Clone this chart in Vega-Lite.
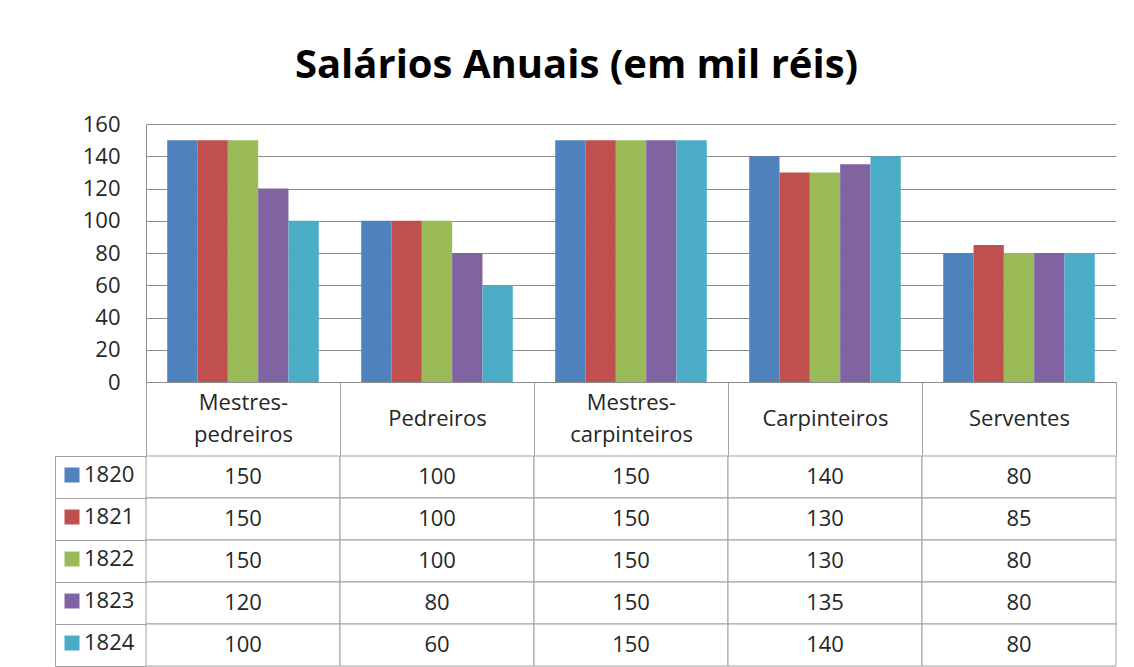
{
  "$schema": "https://vega.github.io/schema/vega-lite/v6.json",
  "background": "white",
  "padding": {"left": 54, "top": 46, "right": 10, "bottom": 0},
  "datasets": {
    "salarios": [
      {"ocupacao": "Mestres-pedreiros", "ano": "1820", "salario": 150},
      {"ocupacao": "Mestres-pedreiros", "ano": "1821", "salario": 150},
      {"ocupacao": "Mestres-pedreiros", "ano": "1822", "salario": 150},
      {"ocupacao": "Mestres-pedreiros", "ano": "1823", "salario": 120},
      {"ocupacao": "Mestres-pedreiros", "ano": "1824", "salario": 100},
      {"ocupacao": "Pedreiros", "ano": "1820", "salario": 100},
      {"ocupacao": "Pedreiros", "ano": "1821", "salario": 100},
      {"ocupacao": "Pedreiros", "ano": "1822", "salario": 100},
      {"ocupacao": "Pedreiros", "ano": "1823", "salario": 80},
      {"ocupacao": "Pedreiros", "ano": "1824", "salario": 60},
      {"ocupacao": "Mestres-carpinteiros", "ano": "1820", "salario": 150},
      {"ocupacao": "Mestres-carpinteiros", "ano": "1821", "salario": 150},
      {"ocupacao": "Mestres-carpinteiros", "ano": "1822", "salario": 150},
      {"ocupacao": "Mestres-carpinteiros", "ano": "1823", "salario": 150},
      {"ocupacao": "Mestres-carpinteiros", "ano": "1824", "salario": 150},
      {"ocupacao": "Carpinteiros", "ano": "1820", "salario": 140},
      {"ocupacao": "Carpinteiros", "ano": "1821", "salario": 130},
      {"ocupacao": "Carpinteiros", "ano": "1822", "salario": 130},
      {"ocupacao": "Carpinteiros", "ano": "1823", "salario": 135},
      {"ocupacao": "Carpinteiros", "ano": "1824", "salario": 140},
      {"ocupacao": "Serventes", "ano": "1820", "salario": 80},
      {"ocupacao": "Serventes", "ano": "1821", "salario": 85},
      {"ocupacao": "Serventes", "ano": "1822", "salario": 80},
      {"ocupacao": "Serventes", "ano": "1823", "salario": 80},
      {"ocupacao": "Serventes", "ano": "1824", "salario": 80}
    ]
  },
  "title": {
    "text": "Salários Anuais (em mil réis)",
    "font": "Open Sans",
    "fontSize": 40,
    "fontWeight": "bold",
    "color": "#000000",
    "anchor": "middle",
    "dx": -9,
    "offset": 27
  },
  "spacing": -2,
  "vconcat": [
    {
      "width": 970,
      "height": 258,
      "data": {"name": "salarios"},
      "mark": {"type": "bar"},
      "encoding": {
        "x": {
          "field": "ocupacao",
          "type": "nominal",
          "sort": ["Mestres-pedreiros", "Pedreiros", "Mestres-carpinteiros", "Carpinteiros", "Serventes"],
          "scale": {"paddingInner": 0, "paddingOuter": 0},
          "axis": {
            "title": null,
            "orient": "bottom",
            "domainColor": "#8c8c8c",
            "tickColor": "#a0a0a0",
            "tickBand": "extent",
            "tickSize": 73,
            "labelPadding": -53,
            "labelBaseline": "middle",
            "labelAngle": 0,
            "labelFont": "Open Sans",
            "labelFontSize": 22,
            "labelColor": "#262626",
            "labelLineHeight": 16,
            "labelLimit": 0,
            "grid": false,
            "labelExpr": "indexof(datum.label,'-') > 0 ? [slice(datum.label,0,indexof(datum.label,'-')+1), '\u200b', slice(datum.label,indexof(datum.label,'-')+1)] : ['\u200b', datum.label]"
          }
        },
        "xOffset": {
          "field": "ano",
          "type": "nominal",
          "scale": {"paddingInner": 0, "paddingOuter": 0.7}
        },
        "y": {
          "field": "salario",
          "type": "quantitative",
          "scale": {"domain": [0, 160]},
          "axis": {
            "title": null,
            "values": [0, 20, 40, 60, 80, 100, 120, 140, 160],
            "grid": true,
            "gridColor": "#8c8c8c",
            "domain": true,
            "domainColor": "#8c8c8c",
            "ticks": false,
            "labelPadding": 26,
            "labelFont": "Open Sans",
            "labelFontSize": 22,
            "labelColor": "#262626"
          }
        },
        "color": {
          "field": "ano",
          "type": "nominal",
          "scale": {"range": ["#4F81BD", "#C0504D", "#9BBB59", "#8064A2", "#4BACC6"]},
          "legend": {
            "title": null,
            "orient": "none",
            "legendX": -85,
            "legendY": 340,
            "symbolType": "square",
            "symbolSize": 225,
            "symbolStrokeWidth": 0,
            "symbolOpacity": 1,
            "labelFont": "Open Sans",
            "labelFontSize": 22,
            "labelColor": "#262626",
            "labelOffset": 1,
            "rowPadding": 20
          }
        }
      }
    },
    {
      "width": 970,
      "height": 210,
      "data": {"name": "salarios"},
      "encoding": {
        "x": {
          "field": "ocupacao",
          "type": "nominal",
          "sort": ["Mestres-pedreiros", "Pedreiros", "Mestres-carpinteiros", "Carpinteiros", "Serventes"],
          "scale": {"paddingInner": 0, "paddingOuter": 0},
          "axis": null
        },
        "y": {
          "field": "ano",
          "type": "nominal",
          "scale": {"paddingInner": 0, "paddingOuter": 0},
          "axis": {
            "title": null,
            "orient": "left",
            "offset": 91,
            "labels": false,
            "domain": true,
            "domainColor": "#a0a0a0",
            "ticks": true,
            "tickBand": "extent",
            "tickSize": -91,
            "tickColor": "#a0a0a0"
          }
        }
      },
      "layer": [
        {"mark": {"type": "rect", "fill": "white", "stroke": "#a0a0a0", "strokeWidth": 1}},
        {
          "mark": {"type": "text", "font": "Open Sans", "fontSize": 22, "color": "#262626"},
          "encoding": {"text": {"field": "salario", "type": "quantitative"}}
        }
      ]
    }
  ],
  "config": {"view": {"stroke": null}}
}
